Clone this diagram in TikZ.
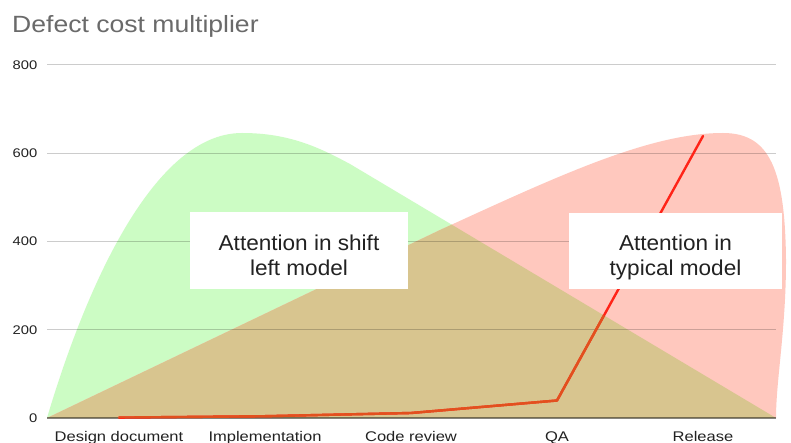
\documentclass[tikz,border=0pt]{standalone}
\usepackage{fontspec}
\setmainfont{Liberation Sans}
\newfontfamily\chartfont[FakeStretch=1.18]{Liberation Sans}
\newfontfamily\headfont[FakeStretch=1.13]{Liberation Sans}
\newfontfamily\notefont[FakeStretch=1.05]{Liberation Sans}
\definecolor{greenarea}{HTML}{CCFCC4}
\definecolor{pinkarea}{HTML}{FFC8BE}
\definecolor{tanarea}{HTML}{D8C58F}
\definecolor{costline}{HTML}{FF2418}
\definecolor{costlinedim}{HTML}{E2501E}
\definecolor{titlegray}{HTML}{6A6A6A}
\definecolor{labelink}{HTML}{222222}
\tikzset{
  gridrule/.style={black, opacity=0.2, line width=1pt},
  baserule/.style={black, opacity=0.45, line width=1.2pt},
  ytick/.style={anchor=east, inner sep=0pt, text=labelink, font=\chartfont\fontsize{12.5}{14}\selectfont},
  xtick/.style={anchor=base, inner sep=0pt, text=labelink, font=\chartfont\fontsize{14}{16}\selectfont},
  notebox/.style={fill=white, draw=none, inner sep=0pt},
  notetext/.style={align=center, inner sep=0pt, text=labelink, font=\notefont\fontsize{21.5}{25}\selectfont},
  costpath/.style={line width=2.4pt, line join=round, line cap=round},
}
\begin{document}
\begin{tikzpicture}[x=1pt,y=-1pt]
\useasboundingbox (0,0) rectangle (791,443);
\fill[white] (0,0) rectangle (791,443);

% outline points of the two attention areas
\coordinate (o) at (47,418);
\coordinate (e) at (776,418);

% shift-left attention (green)
\fill[greenarea] (o) .. controls (82,300) and (150,133) .. (242,133)
  .. controls (290,133) and (320,148) .. (350,164) -- (e) -- cycle;
% typical attention (pink)
\fill[pinkarea] (o) -- (440,230) .. controls (560,175) and (650,133) .. (723,133)
  .. controls (770,133) and (785,170) .. (786,260)
  .. controls (786,330) and (776,380) .. (e) -- cycle;
% overlap of both areas
\begin{scope}
  \clip (o) .. controls (82,300) and (150,133) .. (242,133)
    .. controls (290,133) and (320,148) .. (350,164) -- (e) -- cycle;
  \fill[tanarea] (o) -- (440,230) .. controls (560,175) and (650,133) .. (723,133)
    .. controls (770,133) and (785,170) .. (786,260)
    .. controls (786,330) and (776,380) .. (e) -- cycle;
\end{scope}

% value grid
\foreach \gy in {65,153.25,241.5,329.75}
  \draw[gridrule] (47,\gy) -- (776,\gy);
\draw[baserule] (o) -- (e);

% defect cost series
\coordinate (c1) at (119,417.6);
\coordinate (c2) at (265,416.2);
\coordinate (c3) at (411,413);
\coordinate (c4) at (557,400.5);
\coordinate (c5) at (703,136);
\draw[costpath, costline] (c1) -- (c2) -- (c3) -- (c4) -- (c5);
\begin{scope}
  \clip (o) .. controls (82,300) and (150,133) .. (242,133)
    .. controls (290,133) and (320,148) .. (350,164) -- (e) -- cycle;
  \draw[costpath, costlinedim] (c1) -- (c2) -- (c3) -- (c4) -- (c5);
\end{scope}

% annotation boxes
\node[notebox, minimum width=218pt, minimum height=77pt] (leftbox) at (299,250.5) {};
\node[notetext] (lefttext) at ([yshift=-5pt]leftbox.center) {Attention in shift\\left model};
\node[notebox, minimum width=213pt, minimum height=76pt] (rightbox) at (675.5,251) {};
\node[notetext] (righttext) at ([yshift=-6.5pt]rightbox.center) {Attention in\\typical model};

% title
\node[anchor=base west, inner sep=0pt, text=titlegray, font=\headfont\fontsize{23.5}{27}\selectfont] (title) at (12,33) {Defect cost multiplier};

% value axis labels
\node[ytick] (y800) at (37.5,65) {800};
\node[ytick] (y600) at (37.5,153.25) {600};
\node[ytick] (y400) at (37.5,241.5) {400};
\node[ytick] (y200) at (37.5,329.75) {200};
\node[ytick] (y0) at (37.5,418) {0};

% stage labels
\node[xtick] (s1) at (119,441) {Design document};
\node[xtick] (s2) at (265,441) {Implementation};
\node[xtick] (s3) at (411,441) {Code review};
\node[xtick] (s4) at (557,441) {QA};
\node[xtick] (s5) at (703,441) {Release};
\end{tikzpicture}
\end{document}
